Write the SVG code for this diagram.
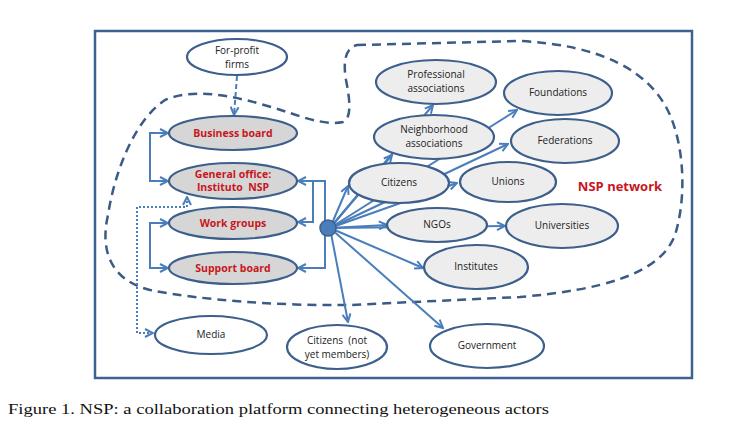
<svg xmlns="http://www.w3.org/2000/svg" width="754" height="436" viewBox="0 0 754 436">
<style>
.frame{fill:#fff;stroke:#3d6190;stroke-width:2.5}
.bound{fill:none;stroke:#3b5a85;stroke-width:2.5;stroke-dasharray:9,6}
.n ellipse{stroke:#3d5f8c;stroke-width:2.2}
.w ellipse{fill:#fff}
.g ellipse{fill:#ededed}
.d ellipse{fill:#d6d6d6}
text{white-space:pre}
.t{font-family:"Open Sans","Liberation Sans",sans-serif;font-size:10px;fill:#222;text-anchor:middle}
.r{font-family:"Open Sans","Liberation Sans",sans-serif;font-size:10.5px;font-weight:bold;fill:#c8161d;text-anchor:middle}
.c line,.c path{stroke:#4a7ebb;stroke-width:2;fill:none}
.dot{stroke-dasharray:2,2}
</style>
<defs>
<marker id="a" viewBox="0 0 10 10" refX="9" refY="5" markerWidth="5" markerHeight="5" orient="auto-start-reverse" markerUnits="strokeWidth">
<path d="M1,1 L9,5 L1,9" fill="none" stroke="#4a7ebb" stroke-width="2"/>
</marker>
</defs>
<rect class="frame" x="95" y="31" width="597" height="347"/>
<path class="bound" d="M357,45 L520,41 C600,45 650,70 670,115 C685,150 686,200 675,235 C660,275 600,290 520,297 L350,305 C280,306 200,300 150,290 C110,280 100,250 108,215 C115,170 135,120 165,100 C200,85 250,100 290,113 C310,120 330,125 343,122 C352,118 350,100 346,80 C343,62 345,48 357,45 Z"/>
<g id="connectors" class="c">
<line x1="237" y1="76" x2="234" y2="115" stroke-dasharray="5,3" marker-end="url(#a)"/>
<path d="M168,133 H150 V181 H168" marker-start="url(#a)" marker-end="url(#a)"/>
<path d="M168,223 H150 V268 H168" marker-start="url(#a)" marker-end="url(#a)"/>
<path d="M298,181 H325 V268 H298" marker-start="url(#a)" marker-end="url(#a)"/>
<path d="M313,181 V222 H298" marker-end="url(#a)"/>
<path class="dot" d="M187,197 V207 H137 V333 H153" marker-start="url(#a)" marker-end="url(#a)"/>
<line x1="330" y1="228" x2="433" y2="105" marker-end="url(#a)"/>
<line x1="330" y1="228" x2="392" y2="155" marker-end="url(#a)"/>
<line x1="330" y1="228" x2="348" y2="186" marker-end="url(#a)"/>
<line x1="330" y1="228" x2="517" y2="110" marker-end="url(#a)"/>
<line x1="330" y1="228" x2="508" y2="144" marker-end="url(#a)"/>
<line x1="330" y1="228" x2="457" y2="183" marker-end="url(#a)"/>
<line x1="330" y1="228" x2="387" y2="225" stroke-width="2.6" marker-end="url(#a)"/>
<line x1="330" y1="228" x2="505" y2="226" marker-end="url(#a)"/>
<line x1="330" y1="228" x2="423" y2="268" marker-end="url(#a)"/>
<line x1="330" y1="228" x2="443" y2="328" marker-end="url(#a)"/>
<line x1="330" y1="228" x2="348" y2="322" marker-end="url(#a)"/>
</g>
<g id="hub"><circle cx="328" cy="228" r="8" fill="#4a7ebb" stroke="#3d5f8c" stroke-width="1.5"/></g>
<g id="forprofit" class="n w"><ellipse cx="237" cy="57" rx="50" ry="18"/><text class="t" x="237" y="54">For-profit</text><text class="t" x="237" y="68">firms</text></g>
<g id="business" class="n d"><ellipse cx="233" cy="133" rx="64" ry="17"/><text class="r" x="233" y="137">Business board</text></g>
<g id="general" class="n d"><ellipse cx="233" cy="181" rx="64" ry="18"/><text class="r" x="233" y="178">General office:</text><text class="r" x="233" y="191">Instituto  NSP</text></g>
<g id="workgroups" class="n d"><ellipse cx="233" cy="223" rx="64" ry="16"/><text class="r" x="233" y="227">Work groups</text></g>
<g id="support" class="n d"><ellipse cx="233" cy="268" rx="64" ry="16"/><text class="r" x="233" y="272">Support board</text></g>
<g id="media" class="n w"><ellipse cx="211" cy="335" rx="56" ry="19"/><text class="t" x="211" y="338">Media</text></g>
<g id="notmembers" class="n w"><ellipse cx="337" cy="347" rx="50" ry="22"/><text class="t" x="337" y="344">Citizens  (not</text><text class="t" x="337" y="358">yet members)</text></g>
<g id="government" class="n w"><ellipse cx="487" cy="346" rx="57" ry="22"/><text class="t" x="487" y="349">Government</text></g>
<g id="professional" class="n g"><ellipse cx="436" cy="82" rx="60" ry="22"/><text class="t" x="436" y="78">Professional</text><text class="t" x="436" y="92">associations</text></g>
<g id="foundations" class="n g"><ellipse cx="558" cy="93" rx="54" ry="22"/><text class="t" x="558" y="96">Foundations</text></g>
<g id="neighborhood" class="n g"><ellipse cx="434" cy="137" rx="60" ry="22"/><text class="t" x="434" y="133">Neighborhood</text><text class="t" x="434" y="147">associations</text></g>
<g id="federations" class="n g"><ellipse cx="565" cy="141" rx="54" ry="22"/><text class="t" x="565" y="144">Federations</text></g>
<g id="citizens" class="n g"><ellipse cx="399" cy="183" rx="50" ry="20"/><text class="t" x="399" y="186">Citizens</text></g>
<g id="unions" class="n g"><ellipse cx="508" cy="182" rx="48" ry="20"/><text class="t" x="508" y="185">Unions</text></g>
<g id="ngos" class="n g"><ellipse cx="437" cy="225" rx="50" ry="17"/><text class="t" x="437" y="228">NGOs</text></g>
<g id="universities" class="n g"><ellipse cx="562" cy="226" rx="56" ry="22"/><text class="t" x="562" y="229">Universities</text></g>
<g id="institutes" class="n g"><ellipse cx="476" cy="267" rx="52" ry="22"/><text class="t" x="476" y="270">Institutes</text></g>
<text x="620" y="191" font-family="Open Sans,Liberation Sans,sans-serif" font-size="13" font-weight="bold" fill="#c8161d" text-anchor="middle">NSP network</text>
<text x="8" y="414" font-family="Liberation Serif,serif" font-size="15" fill="#111" textLength="541" lengthAdjust="spacingAndGlyphs">Figure 1. NSP: a collaboration platform connecting heterogeneous actors</text>
</svg>
